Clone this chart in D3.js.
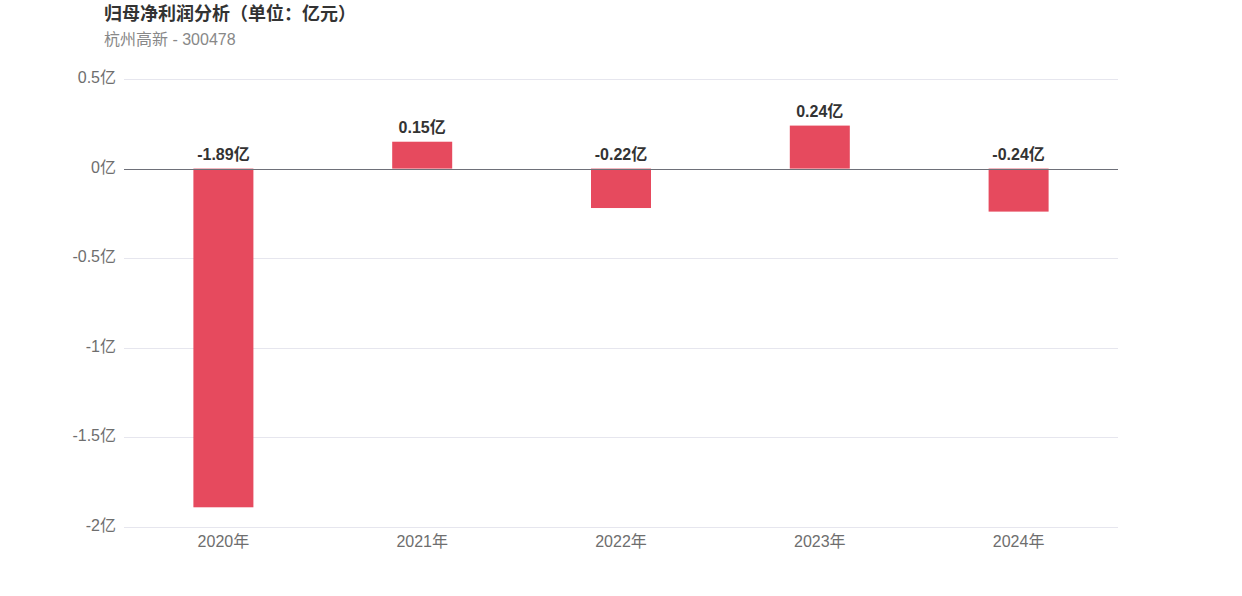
<!DOCTYPE html>
<html><head><meta charset="utf-8">
<script src="https://cdn.jsdelivr.net/npm/d3@7"></script>
<style>
body{margin:0;background:#fff;}
svg{display:block;font-family:"Liberation Sans","Noto Sans CJK SC",sans-serif;}
</style></head>
<body><svg id="c" width="1242" height="596"></svg>
<script>
const categories = ["2020年","2021年","2022年","2023年","2024年"];
const values = [-1.89, 0.15, -0.22, 0.24, -0.24];
const yTicks = [0.5, 0, -0.5, -1, -1.5, -2];
const yTickLabels = ["0.5亿","0亿","-0.5亿","-1亿","-1.5亿","-2亿"];
const title = "归母净利润分析（单位：亿元）";
const subtitle = "杭州高新 - 300478";

(function(){
const svg = d3.select("#c");
const pLeft = 124, pRight = 1118, pTop = 79, pBottom = 527;
const x = d3.scaleBand().domain(categories).range([pLeft, pRight]).paddingInner(0).paddingOuter(0);
const y = d3.scaleLinear().domain([-2, 0.5]).range([pBottom, pTop]);
const barW = 60;

svg.append("text").attr("x", 104).attr("y", 20).attr("font-size", 18).attr("font-weight", "bold").attr("fill", "#333").text(title);
svg.append("text").attr("x", 104).attr("y", 45).attr("font-size", 16).attr("fill", "#888").text(subtitle);

svg.append("g").selectAll("line").data(yTicks.filter(d => d !== 0)).join("line")
  .attr("x1", pLeft).attr("x2", pRight)
  .attr("y1", d => Math.round(y(d)) + 0.5).attr("y2", d => Math.round(y(d)) + 0.5)
  .attr("stroke", "#e6e6ee").attr("stroke-width", 1);

svg.append("g").selectAll("text").data(yTicks).join("text")
  .attr("x", 116).attr("y", d => y(d) + 4)
  .attr("text-anchor", "end").attr("font-size", 16).attr("fill", "#6e6e6e")
  .text((d, i) => yTickLabels[i]);

svg.append("g").selectAll("rect").data(values).join("rect")
  .attr("x", (d, i) => x(categories[i]) + x.bandwidth() / 2 - barW / 2)
  .attr("width", barW)
  .attr("y", d => y(Math.max(0, d)))
  .attr("height", d => Math.abs(y(d) - y(0)))
  .attr("fill", "#e64a5e");

svg.append("line").attr("x1", pLeft).attr("x2", pRight)
  .attr("y1", Math.round(y(0)) + 0.5).attr("y2", Math.round(y(0)) + 0.5)
  .attr("stroke", "#6e7079").attr("stroke-width", 1);

svg.append("g").selectAll("text").data(values).join("text")
  .attr("x", (d, i) => x(categories[i]) + x.bandwidth() / 2)
  .attr("y", d => y(Math.max(0, d)) - 9)
  .attr("text-anchor", "middle").attr("font-size", 16).attr("font-weight", "bold").attr("fill", "#333")
  .text(d => d + "亿");

svg.append("g").selectAll("text").data(categories).join("text")
  .attr("x", d => x(d) + x.bandwidth() / 2).attr("y", 547)
  .attr("text-anchor", "middle").attr("font-size", 16).attr("fill", "#6e6e6e")
  .text(d => d);
})();
</script></body></html>
